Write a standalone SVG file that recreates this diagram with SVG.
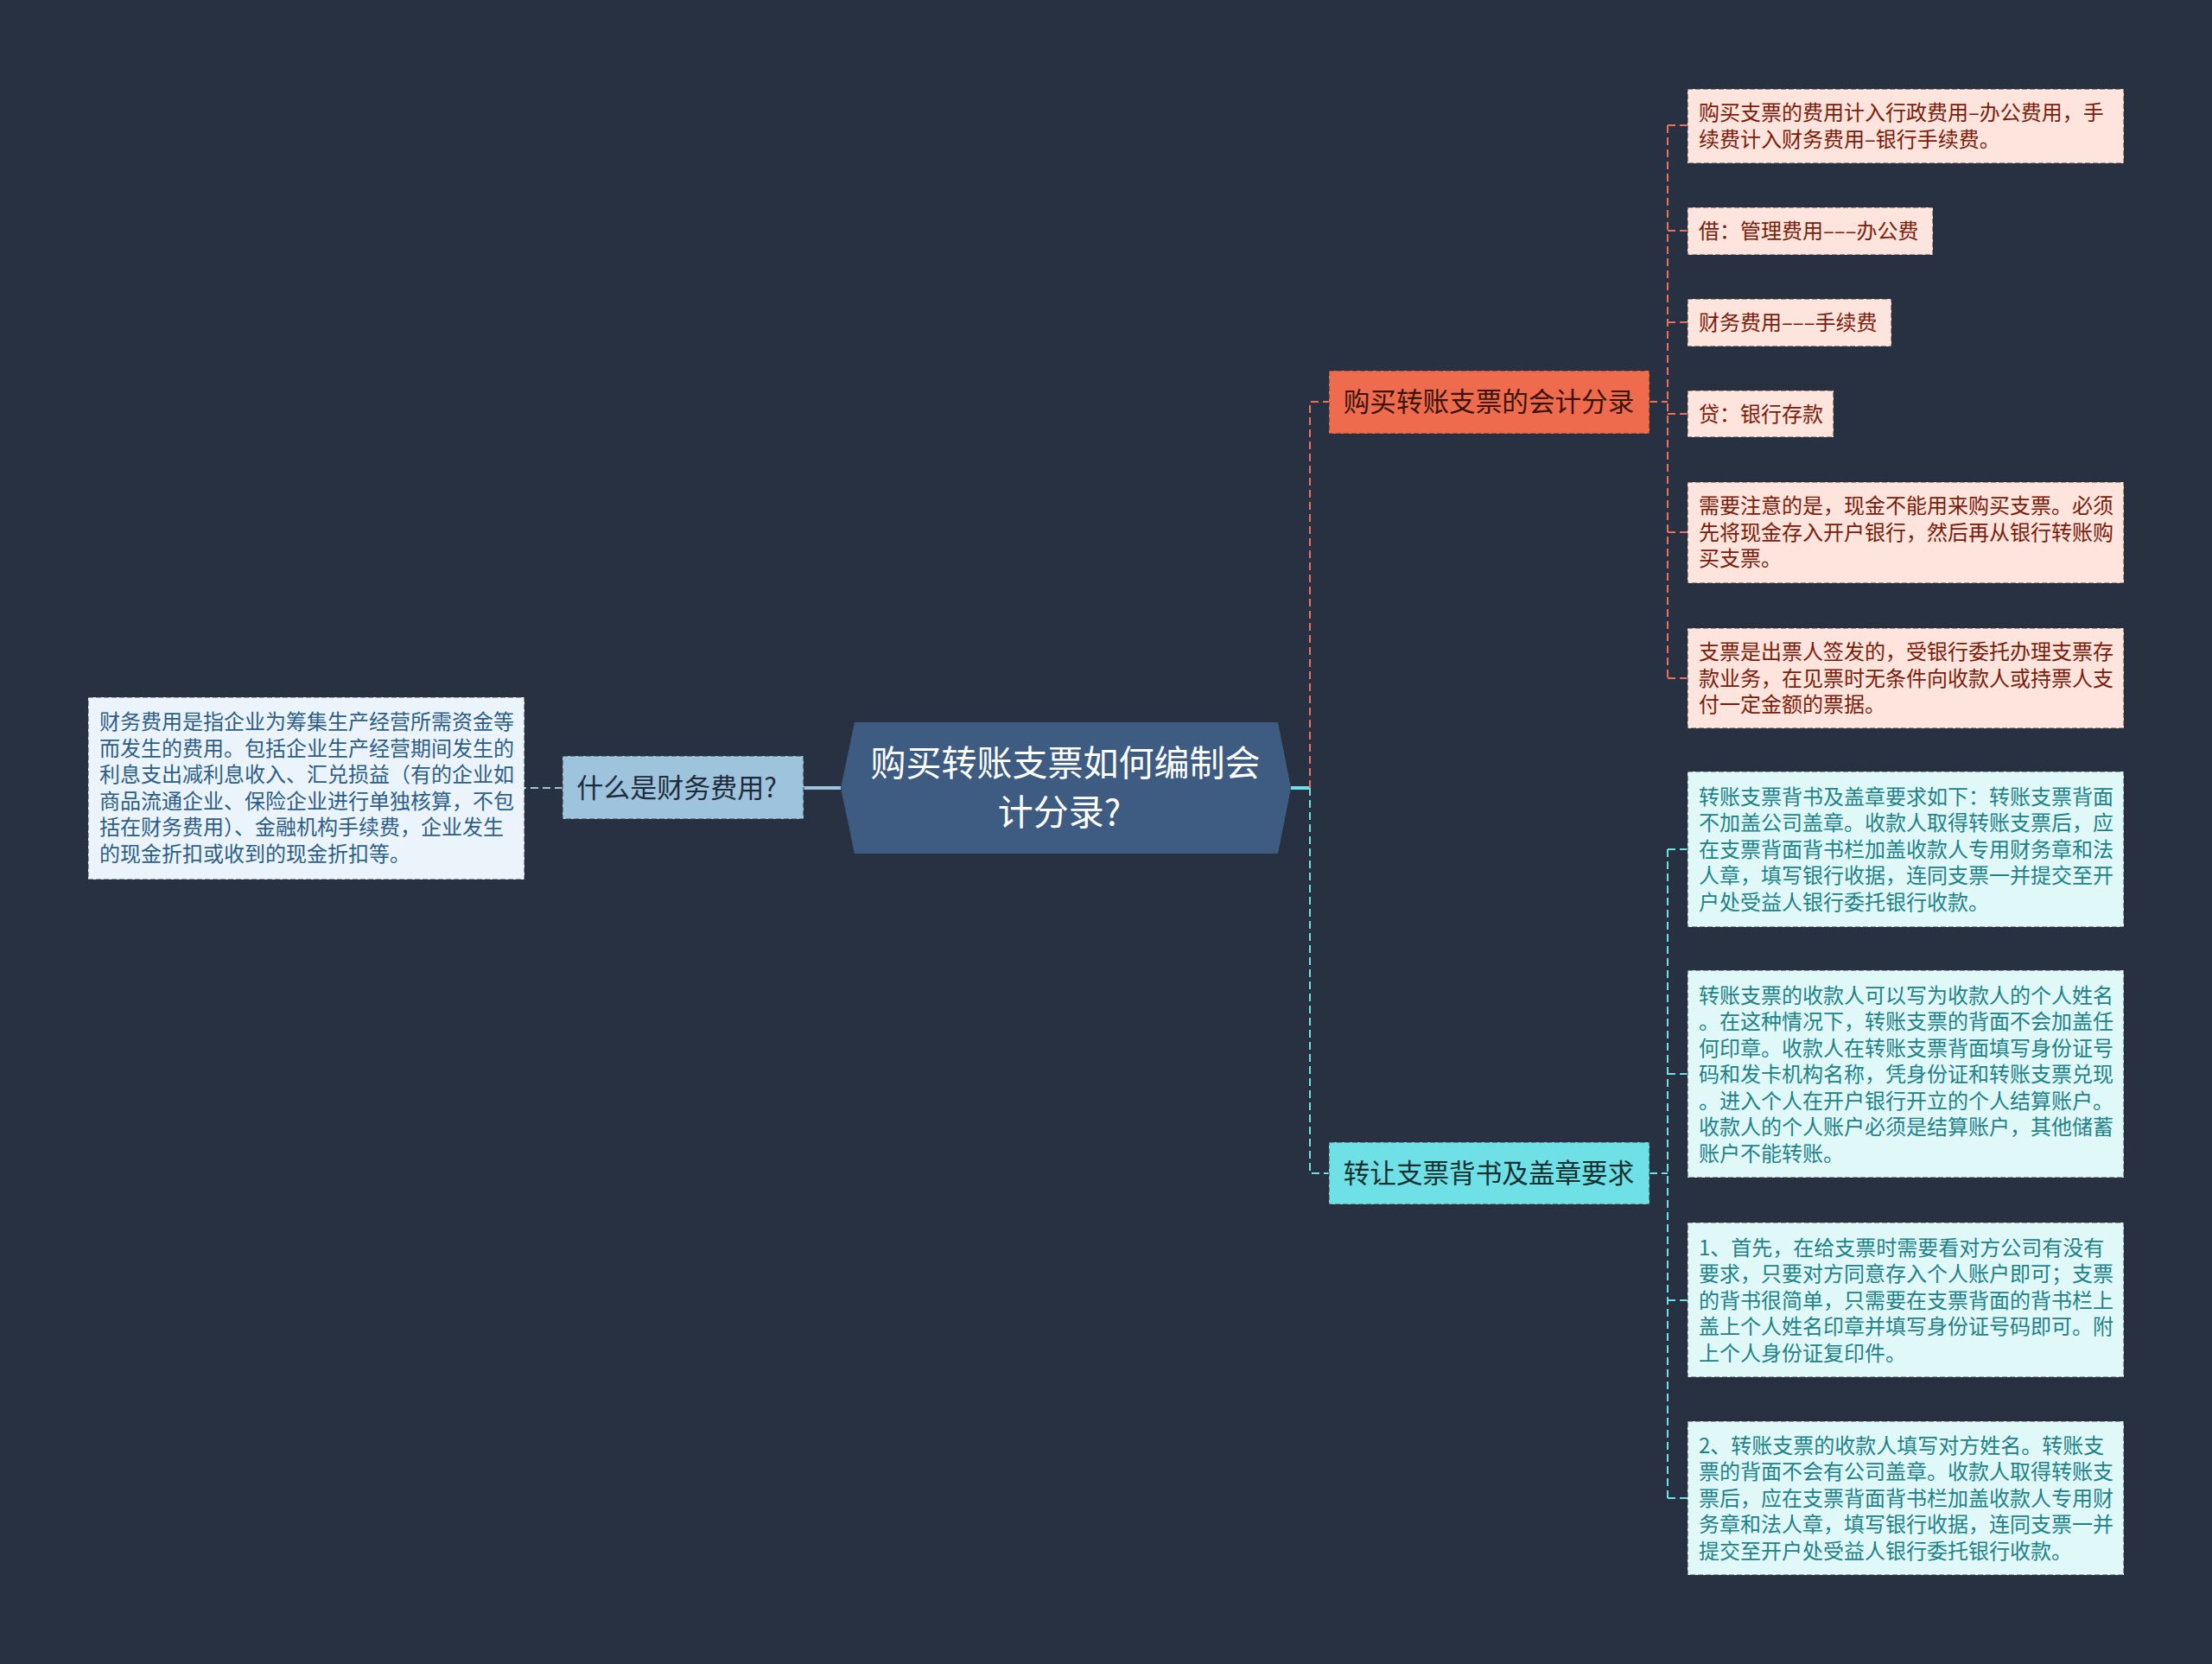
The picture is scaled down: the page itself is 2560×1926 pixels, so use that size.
<svg xmlns="http://www.w3.org/2000/svg" width="2560" height="1926" viewBox="0 0 2560 1926">
<style>
text{font-family:"Noto Sans CJK SC","Noto Sans",sans-serif;dominant-baseline:central}
.box{stroke:#2b2b2b;stroke-opacity:.55;stroke-width:1.6;stroke-dasharray:6 3}
.t24{font-size:24px}
.or{fill:#7b1c0b}
.cy{fill:#1d8388}
.bl{fill:#2d5e88}
.dor{fill:none;stroke:#e8735a;stroke-width:2;stroke-dasharray:9 5}
.dcy{fill:none;stroke:#6ee0e6;stroke-width:2;stroke-dasharray:9 5}
.dbl{fill:none;stroke:#9ec3dd;stroke-width:2;stroke-dasharray:9 5}
</style>
<rect width="2560" height="1926" fill="#283141"/>
<g id="connectors">
<path d="M973 912 H930" stroke="#9ec3dd" stroke-width="4" fill="none"/>
<path d="M651 912 H607" class="dbl"/>
<path d="M1494 912 H1516" stroke="#6ee0e6" stroke-width="4" fill="none"/>
<path d="M1516 912 V465 H1538" class="dor"/>
<path d="M1516 912 V1358 H1538" class="dcy"/>
<path d="M1909 465 H1930" class="dor"/>
<path d="M1930 145 V785" class="dor"/>
<path d="M1930 145 H1953 M1930 267 H1953 M1930 373 H1953 M1930 479 H1953 M1930 616 H1953 M1930 785 H1953" class="dor"/>
<path d="M1909 1358 H1930" class="dcy"/>
<path d="M1930 983 V1734" class="dcy"/>
<path d="M1930 983 H1953 M1930 1243 H1953 M1930 1505 H1953 M1930 1734 H1953" class="dcy"/>
</g>
<g id="center">
<polygon points="973,912 989,836 1479,836 1494,912 1479,988 989,988" fill="#3e5c82"/>
<text x="1233" y="880" font-size="41" fill="#ffffff" text-anchor="middle">购买转账支票如何编制会</text>
<text x="1226" y="937" font-size="41" fill="#ffffff" text-anchor="middle">计分录?</text>
</g>
<g id="left-node">
<rect x="651" y="875" width="279" height="73" fill="#9ec3dd" class="box"/>
<text x="783" y="909" font-size="31" fill="#1f2b3a" text-anchor="middle">什么是财务费用?</text>
</g>
<g id="left-detail">
<rect x="102" y="807" width="505" height="211" fill="#ebf4fa" class="box"/>
<text class="t24 bl" x="115"><tspan x="115" y="833">财务费用是指企业为筹集生产经营所需资金等</tspan><tspan x="115" y="863.5">而发生的费用。包括企业生产经营期间发生的</tspan><tspan x="115" y="894">利息支出减利息收入、汇兑损益（有的企业如</tspan><tspan x="115" y="924.5">商品流通企业、保险企业进行单独核算，不包</tspan><tspan x="115" y="955">括在财务费用）、金融机构手续费，企业发生</tspan><tspan x="115" y="985.5">的现金折扣或收到的现金折扣等。</tspan></text>
</g>
<g id="branch-orange">
<rect x="1538" y="429" width="371" height="73" fill="#ee6b4e" class="box"/>
<text x="1723" y="463" font-size="30.6" fill="#3a130a" text-anchor="middle">购买转账支票的会计分录</text>
</g>
<g id="branch-cyan">
<rect x="1538" y="1322" width="371" height="72" fill="#6fe0e6" class="box"/>
<text x="1723" y="1356" font-size="30.6" fill="#15302f" text-anchor="middle">转让支票背书及盖章要求</text>
</g>
<g id="o1">
<rect x="1953" y="103" width="505" height="86" fill="#fde4dd" class="box"/>
<text class="t24 or"><tspan x="1966" y="128">购买支票的费用计入行政费用–办公费用，手</tspan><tspan x="1966" y="158.5">续费计入财务费用–银行手续费。</tspan></text>
</g>
<g id="o2">
<rect x="1953" y="240" width="284" height="55" fill="#fde4dd" class="box"/>
<text class="t24 or" x="1966" y="265">借：管理费用–––办公费</text>
</g>
<g id="o3">
<rect x="1953" y="346" width="236" height="55" fill="#fde4dd" class="box"/>
<text class="t24 or" x="1966" y="371">财务费用–––手续费</text>
</g>
<g id="o4">
<rect x="1953" y="452" width="169" height="54" fill="#fde4dd" class="box"/>
<text class="t24 or" x="1966" y="477">贷：银行存款</text>
</g>
<g id="o5">
<rect x="1953" y="558" width="505" height="117" fill="#fde4dd" class="box"/>
<text class="t24 or"><tspan x="1966" y="583">需要注意的是，现金不能用来购买支票。必须</tspan><tspan x="1966" y="613.5">先将现金存入开户银行，然后再从银行转账购</tspan><tspan x="1966" y="644">买支票。</tspan></text>
</g>
<g id="o6">
<rect x="1953" y="727" width="505" height="116" fill="#fde4dd" class="box"/>
<text class="t24 or"><tspan x="1966" y="752">支票是出票人签发的，受银行委托办理支票存</tspan><tspan x="1966" y="782.5">款业务，在见票时无条件向收款人或持票人支</tspan><tspan x="1966" y="813">付一定金额的票据。</tspan></text>
</g>
<g id="c1">
<rect x="1953" y="893" width="505" height="180" fill="#e1f8f9" class="box"/>
<text class="t24 cy"><tspan x="1966" y="919.5">转账支票背书及盖章要求如下：转账支票背面</tspan><tspan x="1966" y="950">不加盖公司盖章。收款人取得转账支票后，应</tspan><tspan x="1966" y="980.5">在支票背面背书栏加盖收款人专用财务章和法</tspan><tspan x="1966" y="1011">人章，填写银行收据，连同支票一并提交至开</tspan><tspan x="1966" y="1041.5">户处受益人银行委托银行收款。</tspan></text>
</g>
<g id="c2">
<rect x="1953" y="1123" width="505" height="240" fill="#e1f8f9" class="box"/>
<text class="t24 cy"><tspan x="1966" y="1149.5">转账支票的收款人可以写为收款人的个人姓名</tspan><tspan x="1966" y="1180">。在这种情况下，转账支票的背面不会加盖任</tspan><tspan x="1966" y="1210.5">何印章。收款人在转账支票背面填写身份证号</tspan><tspan x="1966" y="1241">码和发卡机构名称，凭身份证和转账支票兑现</tspan><tspan x="1966" y="1271.5">。进入个人在开户银行开立的个人结算账户。</tspan><tspan x="1966" y="1302">收款人的个人账户必须是结算账户，其他储蓄</tspan><tspan x="1966" y="1332.5">账户不能转账。</tspan></text>
</g>
<g id="c3">
<rect x="1953" y="1415" width="505" height="179" fill="#e1f8f9" class="box"/>
<text class="t24 cy"><tspan x="1966" y="1441.5">1、首先，在给支票时需要看对方公司有没有</tspan><tspan x="1966" y="1472">要求，只要对方同意存入个人账户即可；支票</tspan><tspan x="1966" y="1502.5">的背书很简单，只需要在支票背面的背书栏上</tspan><tspan x="1966" y="1533">盖上个人姓名印章并填写身份证号码即可。附</tspan><tspan x="1966" y="1563.5">上个人身份证复印件。</tspan></text>
</g>
<g id="c4">
<rect x="1953" y="1645" width="505" height="178" fill="#e1f8f9" class="box"/>
<text class="t24 cy"><tspan x="1966" y="1670.5">2、转账支票的收款人填写对方姓名。转账支</tspan><tspan x="1966" y="1701">票的背面不会有公司盖章。收款人取得转账支</tspan><tspan x="1966" y="1731.5">票后，应在支票背面背书栏加盖收款人专用财</tspan><tspan x="1966" y="1762">务章和法人章，填写银行收据，连同支票一并</tspan><tspan x="1966" y="1792.5">提交至开户处受益人银行委托银行收款。</tspan></text>
</g>
</svg>
